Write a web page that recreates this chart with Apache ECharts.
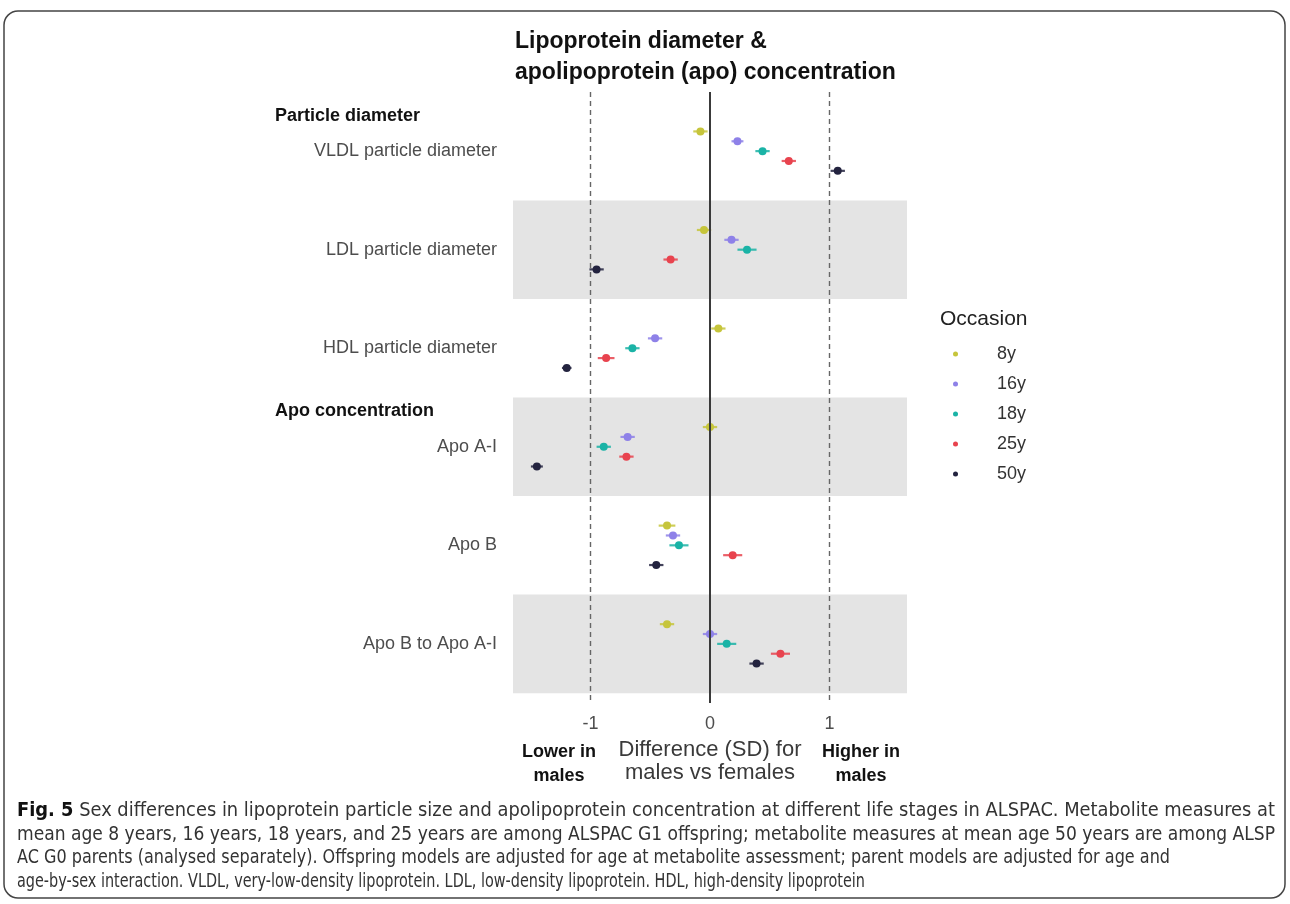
<!DOCTYPE html>
<html>
<head>
<meta charset="utf-8">
<script src="https://cdn.jsdelivr.net/npm/echarts@6/dist/echarts.min.js"></script>
<style>
  html, body { margin: 0; padding: 0; background: #ffffff; }
  #chart { width: 1290px; height: 904px; }
</style>
</head>
<body>
<div id="chart"></div>
<script>
// ---------- data ----------
const categories = ['VLDL particle diameter', 'LDL particle diameter', 'HDL particle diameter', 'Apo A-I', 'Apo B', 'Apo B to Apo A-I'];
const sectionNames = ['Particle diameter', 'Apo concentration'];
const sectionStartRow = [0, 3];
const occasions = ['8y', '16y', '18y', '25y', '50y'];
const est8  = [-0.08, -0.05,  0.07,  0.00, -0.36, -0.36];
const est16 = [ 0.23,  0.18, -0.46, -0.69, -0.31,  0.00];
const est18 = [ 0.44,  0.31, -0.65, -0.89, -0.26,  0.14];
const est25 = [ 0.66, -0.33, -0.87, -0.70,  0.19,  0.59];
const est50 = [ 1.07, -0.95, -1.20, -1.45, -0.45,  0.39];
const half8  = [0.06, 0.06, 0.06, 0.06, 0.07, 0.06];
const half16 = [0.05, 0.06, 0.06, 0.06, 0.06, 0.06];
const half18 = [0.06, 0.08, 0.06, 0.06, 0.08, 0.08];
const half25 = [0.06, 0.06, 0.07, 0.06, 0.08, 0.08];
const half50 = [0.06, 0.06, 0.04, 0.05, 0.06, 0.06];
const xTicks = [-1, 0, 1];
const refDashed = [-1, 1];
const refSolid = [0];
const shadedRows = [1, 3, 5];
const captionLead = 'Fig. 5';
const captionLines = [
  ' Sex differences in lipoprotein particle size and apolipoprotein concentration at different life stages in ALSPAC. Metabolite measures at',
  'mean age 8 years, 16 years, 18 years, and 25 years are among ALSPAC G1 offspring; metabolite measures at mean age 50 years are among ALSP',
  'AC G0 parents (analysed separately). Offspring models are adjusted for age at metabolite assessment; parent models are adjusted for age and',
  'age-by-sex interaction. VLDL, very-low-density lipoprotein. LDL, low-density lipoprotein. HDL, high-density lipoprotein'
];

// ---------- styling ----------
const estimates = [est8, est16, est18, est25, est50];
const halves = [half8, half16, half18, half25, half50];
const colors = ['#C6C53B', '#8E81E8', '#1AB3A6', '#E8434E', '#23233F'];
const dodge = 0.1;
const FONT = '"Liberation Sans", Arial, sans-serif';
const CAPFONT = '"DejaVu Sans Condensed", "Liberation Sans Narrow", "Open Sans", sans-serif';
const CAPSIZE = 19.8;
const capLeft = 17;
const capRight = [1275, 1275, 1170, 865];
const capY = [811, 834.5, 858, 881.5];

const series = [];
occasions.forEach((occ, s) => {
  const rows = categories.map((c, i) => i + (s - 2) * dodge);
  series.push({
    type: 'scatter', name: occ, z: 3,
    symbol: 'circle', symbolSize: 8,
    itemStyle: { color: colors[s], opacity: 1 },
    data: estimates[s].map((v, i) => [v, rows[i]])
  });
});
occasions.forEach((occ, s) => {
  const rows = categories.map((c, i) => i + (s - 2) * dodge);
  series.push({
    type: 'custom', name: occ, z: 2, silent: true,
    itemStyle: { color: colors[s] },
    data: estimates[s].map((v, i) => [v - halves[s][i], v + halves[s][i], rows[i]]),
    encode: { x: [0, 1], y: 2 },
    renderItem: function (params, api) {
      const a = api.coord([api.value(0), api.value(2)]);
      const b = api.coord([api.value(1), api.value(2)]);
      return {
        type: 'line',
        shape: { x1: a[0], y1: a[1], x2: b[0], y2: b[1] },
        style: { stroke: colors[s], lineWidth: 2.2, opacity: 0.85 }
      };
    }
  });
});
series.push({
  type: 'line', name: 'bands', data: [], silent: true, z: 0,
  itemStyle: { color: '#E4E4E4' },
  markArea: {
    silent: true,
    itemStyle: { color: '#E4E4E4' },
    data: shadedRows.map(r => [{ yAxis: r - 0.5 }, { yAxis: r + 0.5 }])
  }
});
series.push({
  type: 'line', name: 'refs', data: [], silent: true, z: 1,
  itemStyle: { color: '#3a3a3a' },
  markLine: {
    silent: true, symbol: 'none', label: { show: false },
    data: refSolid.map(v => ({ xAxis: v, lineStyle: { color: '#3a3a3a', width: 2, type: 'solid' } }))
      .concat(refDashed.map(v => ({ xAxis: v, lineStyle: { color: '#666666', width: 1.4, type: [5, 4] } })))
  }
});

// caption lines, each fitted to the width it has in the figure
const ctx = document.createElement('canvas').getContext('2d');
function textWidth(str, weight) {
  ctx.font = (weight ? weight + ' ' : '') + CAPSIZE + 'px ' + CAPFONT;
  return ctx.measureText(str).width;
}
const captionGraphics = captionLines.map((line, i) => {
  let natural = textWidth(line, '');
  let text = line;
  if (i === 0) {
    natural += textWidth(captionLead, 'bold');
    text = '{b|' + captionLead + '}' + line;
  }
  const sx = (capRight[i] - capLeft) / natural;
  return {
    type: 'text', x: capLeft, y: capY[i], scaleX: sx, silent: true,
    style: {
      text: text, verticalAlign: 'middle',
      font: CAPSIZE + 'px ' + CAPFONT, fill: '#333',
      rich: { b: { fontWeight: 'bold', fill: '#111', fontSize: CAPSIZE, fontFamily: CAPFONT } }
    }
  };
});

const chart = echarts.init(document.getElementById('chart'), null, { renderer: 'canvas' });
chart.setOption({
  animation: false,
  backgroundColor: '#ffffff',
  color: colors,
  title: [
    {
      text: 'Lipoprotein diameter &\napolipoprotein (apo) concentration',
      left: 510, top: 21,
      textStyle: { fontFamily: FONT, fontSize: 23, fontWeight: 'bold', color: '#111', lineHeight: 31 }
    },
    {
      text: 'Occasion', left: 935, top: 304,
      textStyle: { fontFamily: FONT, fontSize: 21, fontWeight: 'normal', color: '#222' }
    }
  ],
  legend: {
    orient: 'vertical', left: 948, top: 340, itemGap: 12,
    itemWidth: 5, itemHeight: 5,
    data: occasions.map(o => ({ name: o, icon: 'circle' })),
    textStyle: { fontFamily: FONT, fontSize: 18, color: '#333', padding: [0, 0, 0, 34] }
  },
  grid: { left: 513, top: 92, width: 394, height: 611, containLabel: false },
  xAxis: {
    type: 'value', min: -1.65, max: 1.65,
    axisLine: { show: false }, axisTick: { show: false }, splitLine: { show: false },
    axisLabel: {
      customValues: xTicks, formatter: v => String(v), margin: 12,
      fontFamily: FONT, fontSize: 18, color: '#4d4d4d'
    },
    name: 'Difference (SD) for\nmales vs females', nameLocation: 'middle', nameGap: 35,
    nameTextStyle: { fontFamily: FONT, fontSize: 22, lineHeight: 23, color: '#3a3a3a' }
  },
  yAxis: [
    {
      type: 'value', inverse: true, min: -0.6, max: 5.6,
      axisLine: { show: false }, axisTick: { show: false }, splitLine: { show: false },
      axisLabel: {
        customValues: categories.map((c, i) => i),
        formatter: v => categories[Math.round(v)],
        margin: 16, fontFamily: FONT, fontSize: 18, color: '#4d4d4d'
      }
    },
    {
      type: 'value', inverse: true, min: -0.6, max: 5.6, position: 'left',
      axisLine: { show: false }, axisTick: { show: false }, splitLine: { show: false },
      axisLabel: {
        customValues: sectionStartRow.map(r => r - 0.36),
        formatter: v => sectionNames[sectionStartRow.indexOf(Math.round(v + 0.36))],
        align: 'left', margin: 238,
        fontFamily: FONT, fontSize: 18, fontWeight: 'bold', color: '#111'
      }
    }
  ],
  series: series,
  graphic: [
    {
      type: 'rect', silent: true, z: -1,
      shape: { x: 4, y: 11, width: 1281, height: 887, r: 14 },
      style: { fill: 'none', stroke: '#444', lineWidth: 1.5 }
    },
    {
      type: 'text', x: 559, y: 740, silent: true,
      style: { text: 'Lower in\nmales', align: 'center', verticalAlign: 'top', font: 'bold 18px "Liberation Sans", Arial, sans-serif', fill: '#111', lineHeight: 24 }
    },
    {
      type: 'text', x: 861, y: 740, silent: true,
      style: { text: 'Higher in\nmales', align: 'center', verticalAlign: 'top', font: 'bold 18px "Liberation Sans", Arial, sans-serif', fill: '#111', lineHeight: 24 }
    }
  ].concat(captionGraphics)
});
</script>
</body>
</html>
